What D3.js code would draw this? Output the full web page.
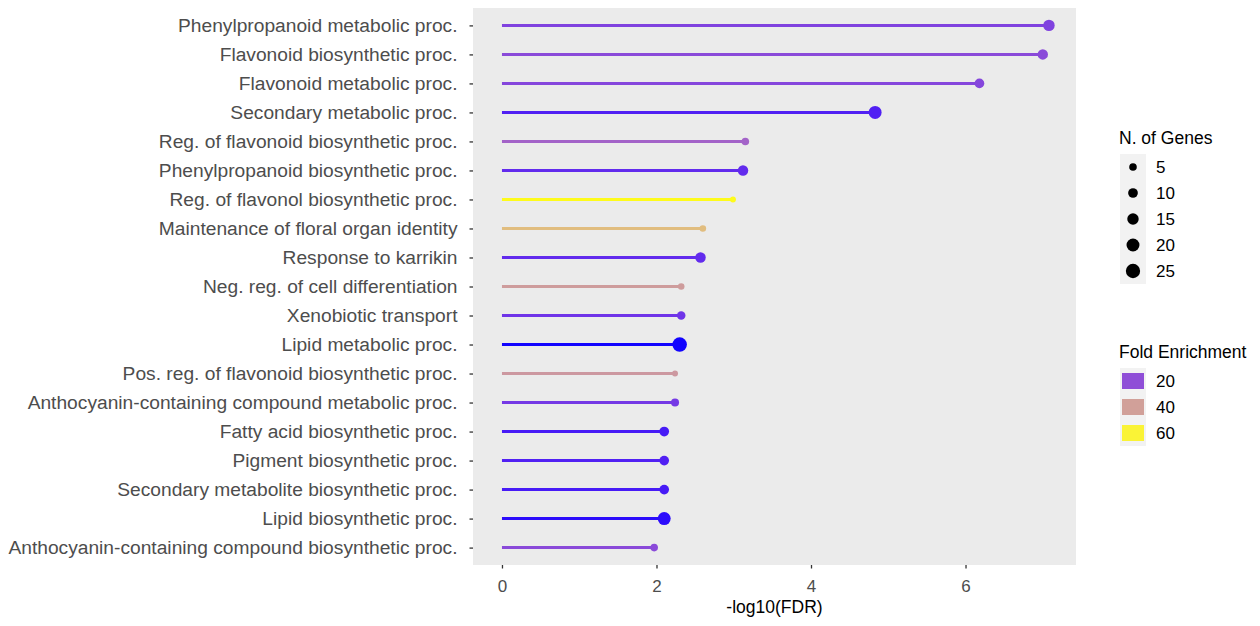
<!DOCTYPE html>
<html>
<head>
<meta charset="utf-8">
<script src="https://cdn.jsdelivr.net/npm/d3@7"></script>
<style>
  body { margin: 0; background: #fff; }
  text { font-family: "Liberation Sans", Arial, sans-serif; }
</style>
</head>
<body>
<svg id="chart" width="1260" height="626"></svg>
<script>
// GO terms, top to bottom
var terms = [
  "Phenylpropanoid metabolic proc.",
  "Flavonoid biosynthetic proc.",
  "Flavonoid metabolic proc.",
  "Secondary metabolic proc.",
  "Reg. of flavonoid biosynthetic proc.",
  "Phenylpropanoid biosynthetic proc.",
  "Reg. of flavonol biosynthetic proc.",
  "Maintenance of floral organ identity",
  "Response to karrikin",
  "Neg. reg. of cell differentiation",
  "Xenobiotic transport",
  "Lipid metabolic proc.",
  "Pos. reg. of flavonoid biosynthetic proc.",
  "Anthocyanin-containing compound metabolic proc.",
  "Fatty acid biosynthetic proc.",
  "Pigment biosynthetic proc.",
  "Secondary metabolite biosynthetic proc.",
  "Lipid biosynthetic proc.",
  "Anthocyanin-containing compound biosynthetic proc."
];
var negLogFdr = [7.08, 7.0, 6.18, 4.83, 3.15, 3.12, 2.99, 2.6, 2.57, 2.32, 2.32, 2.3, 2.24, 2.24, 2.1, 2.1, 2.1, 2.1, 1.97];
var foldEnrichment = [17, 19, 18, 10, 25, 12, 62, 47, 12, 39, 14, 6, 38, 15, 9, 10, 9, 7, 19];
var nGenes = [15, 12, 10, 20, 5, 12, 2, 3, 12, 3, 7, 26, 2, 6, 10, 10, 10, 20, 5];

var xTicks = [0, 2, 4, 6];
var sizeBreaks = [5, 10, 15, 20, 25];
var colorBreaks = [20, 40, 60];

var data = terms.map(function(t, i) {
  return { term: t, fdr: negLogFdr[i], fe: foldEnrichment[i], n: nGenes[i] };
});

var margin = {top: 8, left: 473, right: 184, bottom: 61};
var width = 1260 - margin.left - margin.right,
    height = 626 - margin.top - margin.bottom;

var svg = d3.select("#chart");
var chart = svg.append("g")
    .attr("transform", "translate(" + margin.left + "," + margin.top + ")");

var x = d3.scaleLinear().domain([-0.375, 7.43]).range([0, width]);
var y = d3.scalePoint().domain(terms).range([0, height]).padding(0.6);

var color = d3.scaleSequential(d3.interpolateLab("#0000ff", "#ffff00")).domain([5.7, 62.9]);
var area = d3.scaleLinear().domain([5, 25]).range([14.4, 51]);
var radius = function(n) { return Math.sqrt(Math.max(area(n), 4)); };

chart.append("rect")
    .attr("width", width)
    .attr("height", height)
    .attr("fill", "#ebebeb");

// y axis
var yAxis = chart.append("g")
    .call(d3.axisLeft(y).tickSize(3.5).tickPadding(12));
yAxis.select(".domain").remove();
yAxis.selectAll(".tick line").attr("stroke", "#333").attr("stroke-width", 1.3);
yAxis.selectAll("text").attr("fill", "#4d4d4d").style("font-size", "19.2px");

// x axis
var xAxis = chart.append("g")
    .attr("transform", "translate(0," + height + ")")
    .call(d3.axisBottom(x).tickValues(xTicks).tickSize(3.5).tickPadding(11));
xAxis.select(".domain").remove();
xAxis.selectAll(".tick line").attr("stroke", "#333").attr("stroke-width", 1.3);
xAxis.selectAll("text").attr("fill", "#4d4d4d").style("font-size", "17px");

chart.append("text")
    .attr("x", width / 2)
    .attr("y", height + 48)
    .attr("text-anchor", "middle")
    .attr("fill", "#000")
    .style("font-size", "17.5px")
    .text("-log10(FDR)");

// lollipops
var g = chart.selectAll(".lolly")
    .data(data)
    .enter()
    .append("g")
    .attr("class", "lolly");

g.append("line")
    .attr("x1", x(0))
    .attr("x2", function(d) { return x(d.fdr); })
    .attr("y1", function(d) { return y(d.term); })
    .attr("y2", function(d) { return y(d.term); })
    .attr("stroke", function(d) { return color(d.fe); })
    .attr("stroke-width", 3);

g.append("circle")
    .attr("cx", function(d) { return x(d.fdr); })
    .attr("cy", function(d) { return y(d.term); })
    .attr("r", function(d) { return radius(d.n); })
    .attr("fill", function(d) { return color(d.fe); });

// legend: N. of Genes
var leg1 = svg.append("g").attr("transform", "translate(1119,0)");
leg1.append("text")
    .attr("x", 0).attr("y", 144)
    .style("font-size", "17.5px")
    .text("N. of Genes");
leg1.append("rect")
    .attr("x", 1).attr("y", 154)
    .attr("width", 26).attr("height", 130)
    .attr("fill", "#f2f2f2");
sizeBreaks.forEach(function(b, i) {
  var cy = 167 + i * 26;
  leg1.append("circle")
      .attr("cx", 14).attr("cy", cy)
      .attr("r", radius(b))
      .attr("fill", "#000");
  leg1.append("text")
      .attr("x", 37).attr("y", cy + 6)
      .style("font-size", "17px")
      .text(b);
});

// legend: Fold Enrichment
var leg2 = svg.append("g").attr("transform", "translate(1119,0)");
leg2.append("text")
    .attr("x", 0).attr("y", 358)
    .style("font-size", "17.5px")
    .text("Fold Enrichment");
leg2.append("rect")
    .attr("x", 1).attr("y", 368)
    .attr("width", 26).attr("height", 78)
    .attr("fill", "#f2f2f2");
colorBreaks.forEach(function(b, i) {
  var cy = 381 + i * 26;
  leg2.append("rect")
      .attr("x", 3).attr("y", cy - 8)
      .attr("width", 22).attr("height", 16)
      .attr("fill", color(b));
  leg2.append("text")
      .attr("x", 37).attr("y", cy + 6)
      .style("font-size", "17px")
      .text(b);
});
</script>
</body>
</html>
